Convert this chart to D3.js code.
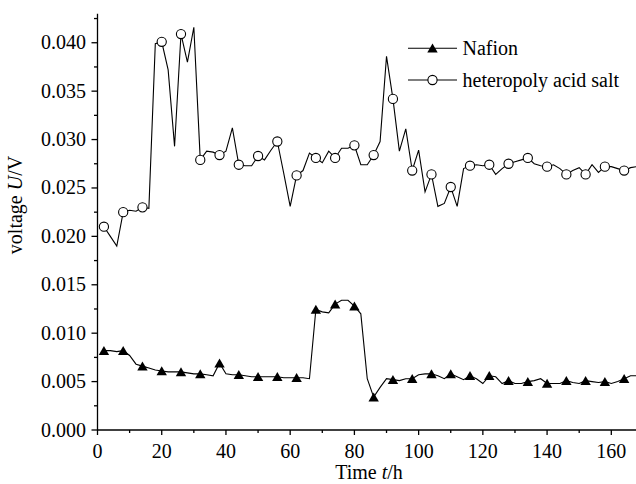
<!DOCTYPE html>
<html>
<head>
<meta charset="utf-8">
<script src="https://cdn.jsdelivr.net/npm/d3@7"></script>
<style>
  body { margin: 0; background: #fff; }
  svg { display: block; }
  text { font-family: 'Liberation Serif', 'Times New Roman', serif; }
</style>
</head>
<body>
<svg width="636" height="484"></svg>
<script>
var svg = d3.select('svg')

// time (h) of each recorded point
var hours = [2, 4, 6, 8, 10, 12, 14, 16, 18, 20, 22, 24, 26, 28, 30, 32, 34, 36, 38, 40,
  42, 44, 46, 48, 50, 52, 54, 56, 58, 60, 62, 64, 66, 68, 70, 72, 74, 76, 78, 80,
  82, 84, 86, 88, 90, 92, 94, 96, 98, 100, 102, 104, 106, 108, 110, 112, 114, 116, 118, 120,
  122, 124, 126, 128, 130, 132, 134, 136, 138, 140, 142, 144, 146, 148, 150, 152, 154, 156, 158, 160,
  162, 164, 166, 168]

var nafion = [0.0082, 0.0082, 0.0081, 0.0082, 0.0077, 0.0068, 0.0066, 0.0064, 0.0062, 0.0061,
  0.0060, 0.0060, 0.0060, 0.0059, 0.0058, 0.0058, 0.0057, 0.0056, 0.0069, 0.0058,
  0.0057, 0.0057, 0.0056, 0.0055, 0.0055, 0.0055, 0.0055, 0.0055, 0.0054, 0.0054,
  0.0054, 0.0054, 0.0053, 0.01245, 0.0122, 0.0121, 0.0130, 0.0134, 0.0134, 0.0128,
  0.0120, 0.0053, 0.0034, 0.0044, 0.0053, 0.0052, 0.0051, 0.0053, 0.0053, 0.0057,
  0.0058, 0.0058, 0.0056, 0.0053, 0.0058, 0.0055, 0.0052, 0.0056, 0.0053, 0.0048,
  0.0056, 0.0055, 0.0048, 0.0051, 0.0048, 0.0048, 0.0050, 0.0051, 0.0053, 0.0048,
  0.0048, 0.0048, 0.0051, 0.0049, 0.0048, 0.0051, 0.0050, 0.0049, 0.0050, 0.0048,
  0.0050, 0.0053, 0.0056, 0.0056]

var hetero = [0.0210, 0.0200, 0.0190, 0.0225, 0.0227, 0.0226, 0.0230, 0.0229, 0.0399, 0.0401,
  0.0372, 0.0293, 0.0409, 0.0380, 0.0416, 0.0279, 0.0288, 0.0287, 0.0284, 0.0288,
  0.0312, 0.0274, 0.0273, 0.0273, 0.0283, 0.0279, 0.0289, 0.0298, 0.0265, 0.0231,
  0.0263, 0.0268, 0.0286, 0.0281, 0.0276, 0.0288, 0.0281, 0.0291, 0.0291, 0.0294,
  0.0274, 0.0274, 0.0284, 0.0298, 0.0386, 0.0342, 0.0288, 0.0311, 0.0268, 0.0289,
  0.0246, 0.0264, 0.0231, 0.0234, 0.0251, 0.0231, 0.0270, 0.0273, 0.0274, 0.0273,
  0.0274, 0.0264, 0.0270, 0.0275, 0.0277, 0.0279, 0.0281, 0.0275, 0.0273, 0.0272,
  0.0274, 0.0270, 0.0264, 0.0268, 0.0271, 0.0264, 0.0274, 0.0266, 0.0272, 0.0272,
  0.0270, 0.0268, 0.0271, 0.0272]

var xTicks = [0, 20, 40, 60, 80, 100, 120, 140, 160]
var yTicks = [0, 0.005, 0.010, 0.015, 0.020, 0.025, 0.030, 0.035, 0.040]
var seriesNames = ['Nafion', 'heteropoly acid salt']

var x = d3.scaleLinear()
  .domain([0, 168])
  .range([97.5, 637])

var y = d3.scaleLinear()
  .domain([0, 0.043])
  .range([430, 13.7])

var toPts = (vals) => vals.map((v, i) => ({ t: hours[i], v: v }))
var nafPts = toPts(nafion)
var hetPts = toPts(hetero)

var line = d3.line()
  .x((d) => x(d.t))
  .y((d) => y(d.v))

// triangle centred on its bounding box
function tri (cx, cy) {
  return 'M' + (cx - 5.2) + ',' + (cy + 4.3) + 'L' + cx + ',' + (cy - 4.7) + 'L' + (cx + 5.2) + ',' + (cy + 4.3) + 'Z'
}

// axes
var xMinor = d3.range(10, 170, 20)
var yMinor = d3.range(0.0025, 0.043, 0.005)

var axG = svg.append('g')
  .attr('stroke', '#000')
  .attr('stroke-width', 1.3)

axG.append('line')
  .attr('x1', x(0)).attr('x2', 637)
  .attr('y1', y(0)).attr('y2', y(0))
axG.append('line')
  .attr('x1', x(0)).attr('x2', x(0))
  .attr('y1', y(0)).attr('y2', y(0.043))

axG.selectAll('.xt').data(xTicks).enter().append('line')
  .attr('x1', (d) => x(d)).attr('x2', (d) => x(d))
  .attr('y1', y(0)).attr('y2', y(0) + 5)
axG.selectAll('.xm').data(xMinor).enter().append('line')
  .attr('x1', (d) => x(d)).attr('x2', (d) => x(d))
  .attr('y1', y(0)).attr('y2', y(0) + 3)
axG.selectAll('.yt').data(yTicks).enter().append('line')
  .attr('x1', x(0) - 6).attr('x2', x(0))
  .attr('y1', (d) => y(d)).attr('y2', (d) => y(d))
axG.selectAll('.ym').data(yMinor).enter().append('line')
  .attr('x1', x(0) - 3.5).attr('x2', x(0))
  .attr('y1', (d) => y(d)).attr('y2', (d) => y(d))

svg.selectAll('.xl').data(xTicks).enter().append('text')
  .attr('x', (d) => x(d))
  .attr('y', 458)
  .attr('text-anchor', 'middle')
  .style('font-size', '20px')
  .text((d) => d)

svg.selectAll('.yl').data(yTicks).enter().append('text')
  .attr('x', 86)
  .attr('y', (d) => y(d) + 6.5)
  .attr('text-anchor', 'end')
  .style('font-size', '20px')
  .text((d) => d3.format('.3f')(d))

svg.append('text')
  .attr('x', 369)
  .attr('y', 479)
  .attr('text-anchor', 'middle')
  .style('font-size', '20px')
  .html('Time <tspan font-style="italic">t</tspan>/h')

svg.append('text')
  .attr('transform', 'translate(22,205) rotate(-90)')
  .attr('text-anchor', 'middle')
  .style('font-size', '20px')
  .html('voltage <tspan font-style="italic">U</tspan>/V')

// series
svg.append('path')
  .attr('d', line(hetPts))
  .attr('fill', 'none')
  .attr('stroke', '#000')
  .attr('stroke-width', 1.1)

svg.append('path')
  .attr('d', line(nafPts))
  .attr('fill', 'none')
  .attr('stroke', '#000')
  .attr('stroke-width', 1.1)

svg.selectAll('.circ')
  .data(hetPts.filter((d, i) => i % 3 === 0))
  .enter().append('circle')
  .attr('cx', (d) => x(d.t))
  .attr('cy', (d) => y(d.v))
  .attr('r', 4.6)
  .attr('fill', '#fff')
  .attr('stroke', '#000')
  .attr('stroke-width', 1.1)

svg.selectAll('.tri')
  .data(nafPts.filter((d, i) => i % 3 === 0))
  .enter().append('path')
  .attr('d', (d) => tri(x(d.t), y(d.v)))
  .attr('fill', '#000')

// legend
var legY = [48.3, 80]
var leg = svg.append('g')

leg.selectAll('line').data(legY).enter().append('line')
  .attr('x1', 408).attr('x2', 457)
  .attr('y1', (d) => d).attr('y2', (d) => d)
  .attr('stroke', '#000')
  .attr('stroke-width', 1.1)

leg.append('path')
  .attr('d', tri(432.5, legY[0]))
  .attr('fill', '#000')

leg.append('circle')
  .attr('cx', 432.5).attr('cy', legY[1])
  .attr('r', 4.6)
  .attr('fill', '#fff')
  .attr('stroke', '#000')
  .attr('stroke-width', 1.1)

leg.selectAll('text').data(seriesNames).enter().append('text')
  .attr('x', 462.5)
  .attr('y', (d, i) => legY[i] + 7)
  .style('font-size', '20px')
  .text((d) => d)
</script>
</body>
</html>
